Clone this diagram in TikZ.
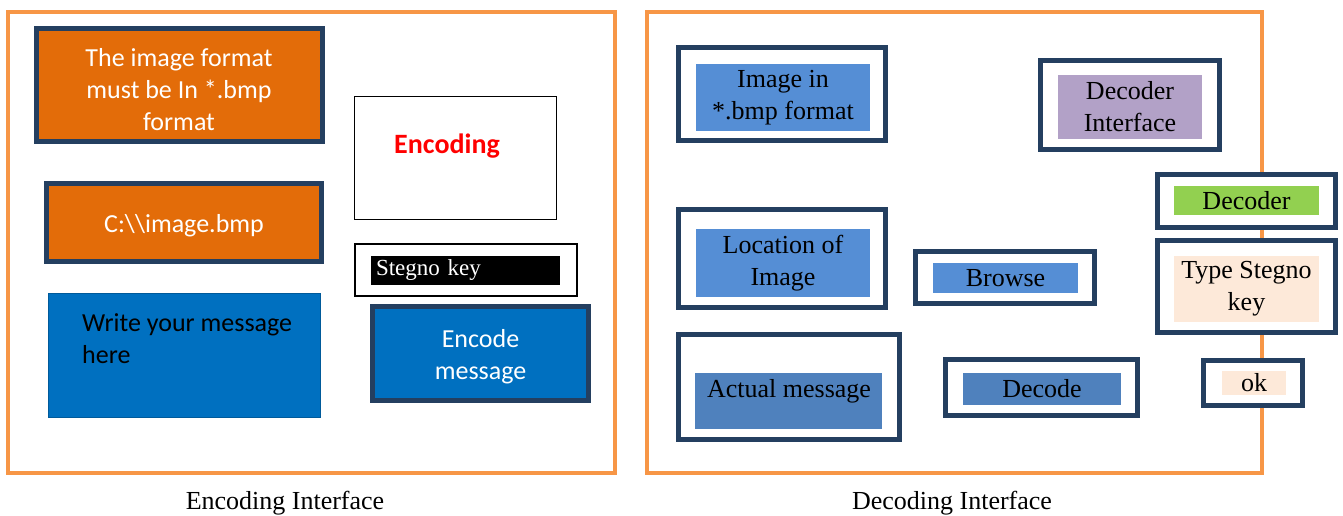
\documentclass[tikz,border=0pt]{standalone}
\usepackage{fontspec}
\setmainfont{Liberation Serif}
\newfontfamily\calibri{Carlito}
\usepackage{tikz}
\definecolor{panelorange}{HTML}{F79646}
\definecolor{framedark}{HTML}{243F60}
\definecolor{boxorange}{HTML}{E36C09}
\definecolor{boxblue}{HTML}{0070C0}
\definecolor{lightblue}{HTML}{558ED5}
\definecolor{midblue}{HTML}{4F81BD}
\definecolor{lilac}{HTML}{B2A1C7}
\definecolor{keygreen}{HTML}{92D050}
\definecolor{peach}{HTML}{FDE9D9}
\newcommand{\framew}{5pt}
\newcommand{\panelw}{4pt}
\newcommand{\txtsize}{\fontsize{26}{32}\selectfont}
% pad the top so the text sits a little lower in its box
\newcommand{\lowertext}[2]{\raisebox{0pt}[\dimexpr\height+#1\relax][\depth]{\begin{tabular}{@{}c@{}}#2\end{tabular}}}

\tikzset{
  panel/.style = {draw=panelorange, line width=\panelw},
  darkframe/.style = {draw=framedark, line width=\framew, fill=white, inner sep=0pt},
  calibritext/.style = {font=\calibri\txtsize, align=center},
  timestext/.style = {font=\txtsize, align=center, text=black},
  fillbox/.style = {inner sep=0pt, timestext}
}

\begin{document}
\begin{tikzpicture}[x=1pt,y=-1pt]
  \useasboundingbox[fill=white] (0,0) rectangle (1343,516);

  % encoding side
  \draw[panel] (8,12) rectangle (615,473);
  \node[darkframe, fill=boxorange, calibritext, text=white, minimum width=286, minimum height=112] (fmt) at (179,85)
       {\lowertext{14pt}{The image format\\must be In *.bmp\\format}};
  \node[darkframe, fill=boxorange, calibritext, text=white, minimum width=275, minimum height=78] (path) at (184,222.5)
       {\lowertext{8pt}{C:\textbackslash\textbackslash image.bmp}};
  \node[draw=boxblue!80!black, line width=0.8pt, fill=boxblue, minimum width=272, minimum height=124] (msg) at (184,355) {};
  \node[calibritext, align=left, inner sep=0pt, anchor=north west] (msgtext) at (82,313)
       {Write your message\\here};
  \node[draw=black, line width=1.6pt, minimum width=202, minimum height=123] (enc) at (455.5,158) {};
  \node[font=\calibri\fontsize{28}{32}\selectfont\bfseries, text=red] (enctext) at (447,146) {Encoding};
  \node[draw=black, line width=2pt, minimum width=222, minimum height=52] (keybox) at (465.5,269.5) {};
  \node[fill=black, text=white, font=\fontsize{23}{28}\selectfont, inner sep=0pt, inner xsep=5pt,
        text width=179, align=left, minimum height=29] (key) at (465.5,270.5) {Stegno key};
  \node[darkframe, fill=boxblue, calibritext, text=white, minimum width=216, minimum height=94] (encode) at (480.5,353.5)
       {\lowertext{8pt}{Encode\\message}};
  \node[timestext] (enccap) at (285,503) {Encoding Interface};

  % decoding side
  \draw[panel] (647,12) rectangle (1262,473);
  \node[darkframe, minimum width=207, minimum height=93] (img) at (782,94) {};
  \node[fillbox, fill=lightblue, minimum width=174, minimum height=67] (imgin) at (783,97.5) {Image in\\*.bmp format};
  \node[darkframe, minimum width=179, minimum height=89] (decif) at (1130,105) {};
  \node[fillbox, fill=lilac, minimum width=144, minimum height=64] (decifin) at (1130,107) {Decoder\\Interface};
  \node[darkframe, minimum width=178, minimum height=53] (decoder) at (1246.5,201) {};
  \node[fillbox, fill=keygreen, minimum width=145, minimum height=29] (decoderin) at (1246.5,200.5) {Decoder};
  \node[darkframe, minimum width=178, minimum height=92] (typekey) at (1246.5,286.5) {};
  \node[fillbox, fill=peach, minimum width=145, minimum height=66] (typekeyin) at (1246.5,289) {Type Stegno\\key};
  \node[darkframe, minimum width=99, minimum height=45] (ok) at (1253,383) {};
  \node[fillbox, fill=peach, minimum width=64, minimum height=24] (okin) at (1254,383) {ok};
  \node[darkframe, minimum width=207, minimum height=98] (loc) at (782,258.5) {};
  \node[fillbox, fill=lightblue, minimum width=174, minimum height=68] (locin) at (783,263) {Location of\\Image};
  \node[darkframe, minimum width=179, minimum height=52] (browse) at (1005,277.5) {};
  \node[fillbox, fill=lightblue, minimum width=145, minimum height=30] (browsein) at (1005.5,278) {Browse};
  \node[darkframe, minimum width=221, minimum height=105] (actual) at (789,387) {};
  \node[fillbox, fill=midblue, minimum width=187, minimum height=56] (actualin) at (788.5,401) {};
  \node[timestext] (actualtext) at (789,391) {Actual message};
  \node[darkframe, minimum width=192, minimum height=56] (decode) at (1041.5,387.5) {};
  \node[fillbox, fill=midblue, minimum width=158, minimum height=32] (decodein) at (1042,389) {Decode};
  \node[timestext] (deccap) at (952,503) {Decoding Interface};
\end{tikzpicture}
\end{document}
